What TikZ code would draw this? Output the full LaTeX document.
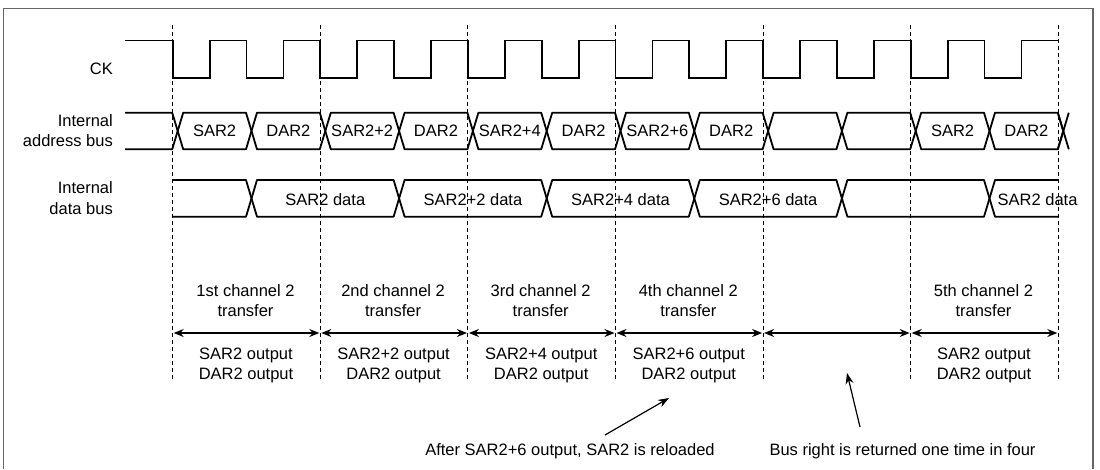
\documentclass[tikz,border=0pt]{standalone}
\usepackage{fontspec}
\setmainfont{Liberation Sans}
\usetikzlibrary{arrows.meta}
\begin{document}
\begin{tikzpicture}[x=1pt,y=-1pt,
  sig/.style={line width=1.8pt, line join=round, line cap=butt},
  guide/.style={line width=0.9pt, dash pattern=on 4pt off 3pt},
  span/.style={line width=1.2pt, {Stealth[length=10pt,width=8pt]}-{Stealth[length=10pt,width=8pt]}, shorten <=1pt, shorten >=1pt},
  note/.style={line width=1.2pt, -{Stealth[length=11pt,width=8pt]}},
  lbl/.style={inner sep=0pt, font=\fontsize{16.5}{20}\selectfont, anchor=base},
  frame/.style={line width=1.3pt, draw=black!60}]
\useasboundingbox (0,0) rectangle (1100,469);
% frame
\draw[frame] (3.5,469) -- (3.5,8.5) -- (1093,8.5) -- (1093,469);
% guides
\foreach \j in {0,...,6} {
  \draw[guide] ({172.7+147.6*\j},25) -- ({172.7+147.6*\j},380);
  \coordinate (g\j) at ({172.7+147.6*\j},333);
}
% clock
\draw[sig, line join=miter] (125,40.5) foreach \k in {0,...,11} { -- ({172.7+73.8*\k},40.5) -- ({172.7+73.8*\k},78) -- ({209.6+73.8*\k},78) -- ({209.6+73.8*\k},40.5) } -- (1058.3,40.5);
% address bus
\draw[sig] (125,112.7) -- (172.2,112.7) -- (177.7,131) -- (172.2,149.3) -- (125,149.3);
\foreach \k in {0,...,11}
  \draw[sig] ({177.7+73.8*\k},131) -- ({183.2+73.8*\k},112.7) -- ({246+73.8*\k},112.7) -- ({251.5+73.8*\k},131) -- ({246+73.8*\k},149.3) -- ({183.2+73.8*\k},149.3) -- cycle;
\draw[sig] (1057.8,112.7) -- (1068.8,149.3);
\draw[sig] (1057.8,149.3) -- (1068.8,112.7);
% data bus
\draw[sig] (172.7,180) -- (246,180) -- (251.5,198.4) -- (246,216.7) -- (172.7,216.7);
\foreach \m in {0,...,4}
  \draw[sig] ({251.5+147.6*\m},198.4) -- ({257+147.6*\m},180) -- ({393.6+147.6*\m},180) -- ({399.1+147.6*\m},198.4) -- ({393.6+147.6*\m},216.7) -- ({257+147.6*\m},216.7) -- cycle;
\draw[sig] (1058.3,180) -- (995,180) -- (989.5,198.4) -- (995,216.7) -- (1058.3,216.7);
% left labels
\node[lbl, anchor=base east] (ck) at (113,74) {CK};
\node[lbl, anchor=base east] (ia1) at (113,126) {Internal};
\node[lbl, anchor=base east] (ia2) at (113,146) {address bus};
\node[lbl, anchor=base east] (id1) at (113,193.3) {Internal};
\node[lbl, anchor=base east] (id2) at (113,214) {data bus};
% address labels
\foreach \k/\t in {0/SAR2,1/DAR2,2/SAR2+2,3/DAR2,4/SAR2+4,5/DAR2,6/SAR2+6,7/DAR2,10/SAR2,11/DAR2}
  \node[lbl] (a\k) at ({214.6+73.8*\k},136.5) {\t};
% data labels
\foreach \m/\t in {0/SAR2 data,1/SAR2+2 data,2/SAR2+4 data,3/SAR2+6 data}
  \node[lbl] (d\m) at ({325.3+147.6*\m},205) {\t};
\node[lbl, anchor=base west] (d5) at (997.5,205) {SAR2 data};
% spans
\foreach \j/\n in {0/1,1/2,2/3,3/4,4/5,5/6}
  \draw[span] (g\j) -- (g\n);
% transfer labels
\foreach \j/\a/\b/\c in {0/1st/SAR2/0,1/2nd/SAR2+2/1,2/3rd/SAR2+4/2,3/4th/SAR2+6/3,5/5th/SAR2/5} {
  \node[lbl] (tt\j) at ({245.5+147.6*\j},296) {\a\ channel 2};
  \node[lbl] (tb\j) at ({245.5+147.6*\j},316) {transfer};
  \node[lbl] (ot\j) at ({246+147.6*\j},359) {\b\ output};
  \node[lbl] (ob\j) at ({246+147.6*\j},379) {DAR2 output};
}
% annotations
\node[lbl] (after) at (570,455.5) {After SAR2+6 output, SAR2 is reloaded};
\node[lbl] (busr) at (902.5,455.5) {Bus right is returned one time in four};
\coordinate (t1) at (605,435);
\coordinate (h1) at (669,398);
\coordinate (t2) at (860,427);
\coordinate (h2) at (847,373);
\draw[note] (t1) -- (h1);
\draw[note] (t2) -- (h2);
\end{tikzpicture}
\end{document}
